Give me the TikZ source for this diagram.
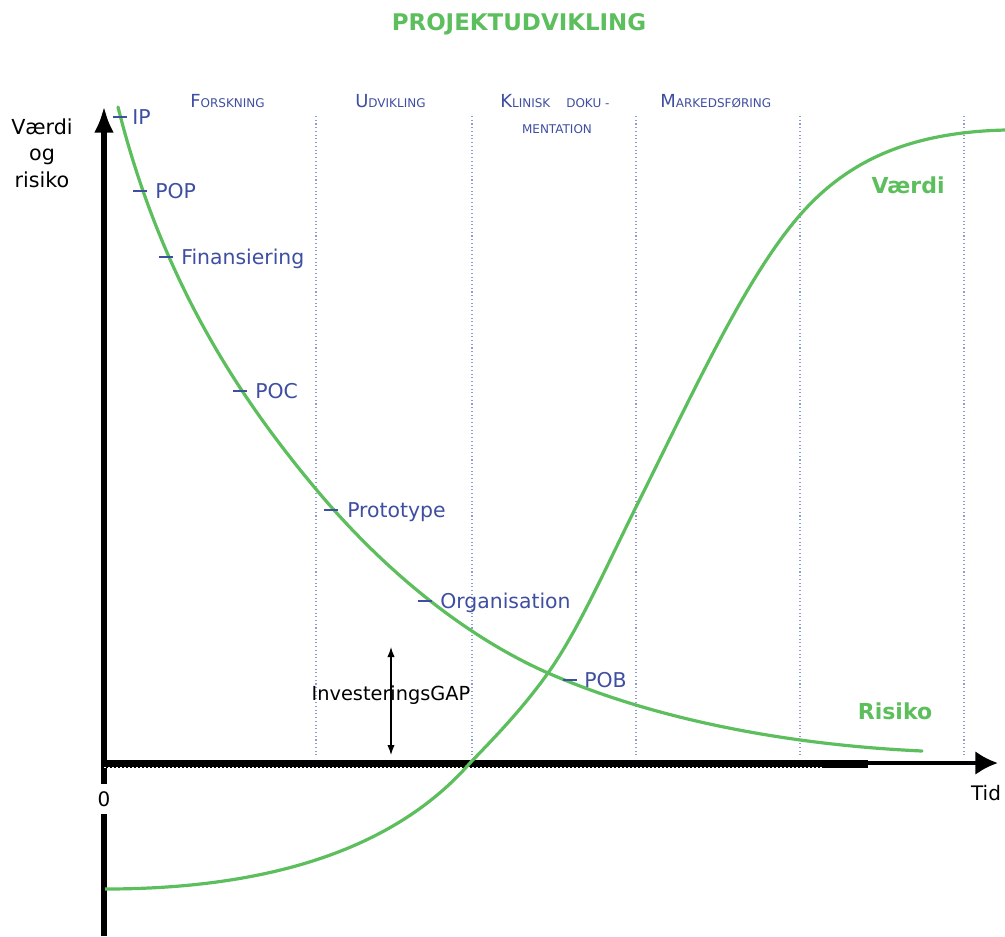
\documentclass[tikz,border=0pt]{standalone}
\usepackage{fontspec}
\setmainfont{DejaVu Sans}
\usetikzlibrary{arrows.meta}
\definecolor{cgreen}{RGB}{92,190,92}
\definecolor{cblue}{RGB}{62,78,160}
\definecolor{cgrid}{RGB}{140,155,215}
\newcommand\scl[2]{{\fontsize{13.5}{16}\selectfont #1}{\fontsize{9}{11}\selectfont #2}}
\tikzset{
  lbl/.style={anchor=base west,inner sep=0pt,text=cblue,font=\fontsize{15.3}{18}\selectfont},
  phase/.style={anchor=base west,inner sep=0pt,text=cblue},
  tickmark/.style={draw=cblue,line width=1.2pt},
  curve/.style={draw=cgreen,line width=2.4pt,line cap=round},
  grid/.style={draw=cgrid,line width=0.8pt,dotted},
  greenlbl/.style={anchor=base,inner sep=0pt,text=cgreen,font=\fontsize{16.5}{20}\selectfont\bfseries},
}
\begin{document}
\begin{tikzpicture}[x=0.75pt,y=-0.75pt]
\useasboundingbox (0,0) rectangle (1005,936);
% title
\node[greenlbl,font=\fontsize{17.2}{20}\selectfont\bfseries] (title) at (519,30.5) {PROJEKTUDVIKLING};
% phase labels
\node[phase] (ph1) at (190,107) {\scl{F}{ORSKNING}};
\node[phase] (ph2) at (355,107) {\scl{U}{DVIKLING}};
\node[phase] (ph3) at (500,107) {\scl{K}{LINISK\hspace{12pt}DOKU -}};
\node[phase,anchor=base] (ph3b) at (557,133) {\fontsize{9}{11}\selectfont MENTATION};
\node[phase] (ph4) at (660,107) {\scl{M}{ARKEDSFØRING}};
% grid lines
\foreach \gx/\nm in {316/g1,472/g2,636/g3,800/g4,964/g5}{
  \coordinate (\nm t) at (\gx,116);
  \coordinate (\nm b) at (\gx,757);
  \draw[grid] (\nm t) -- (\nm b);
}
% axes
\coordinate (O) at (104,763);
\coordinate (ytip) at (104,106);
\coordinate (ybot) at (104,936);
\coordinate (xtip) at (998,763);
\coordinate (xthick) at (868,763);
\coordinate (xdash) at (823,767.5);
\coordinate (xdash0) at (104,767.5);
\draw[line width=4.5pt,-{Latex[length=20pt,width=15pt]}] (ybot) -- (ytip);
\draw[line width=3pt,-{Latex[length=17pt,width=18pt]}] ([xshift=-2pt]O) -- (xtip);
\draw[line width=6pt] ([xshift=-2pt,yshift=-0.75pt]O) -- ([yshift=-0.75pt]xthick);
\draw[white,line width=1.2pt,dash pattern=on 1.5pt off 1.5pt] (xdash0) -- (xdash);
\node[fill=white,inner sep=0pt,minimum height=23pt,minimum width=12pt,font=\fontsize{15}{18}\selectfont] (zero) at (104,799) {0};
\node[anchor=base,inner sep=0pt,font=\fontsize{15}{18}\selectfont] (tid) at (986,800) {Tid};
\node[align=center,inner sep=0pt,font=\fontsize{15.5}{20}\selectfont] (ylab) at (42,153) {Værdi\\og\\risiko};
% curves
\coordinate (r0) at (118,107);
\coordinate (r1) at (315,488);
\coordinate (cross) at (548,673);
\coordinate (r3) at (922,751);
\draw[curve] (r0) .. controls (163,287) and (245,404) .. (r1)
  .. controls (390,578) and (473,640) .. (cross)
  .. controls (658,721) and (792,745) .. (r3);
\coordinate (v0) at (105,889);
\coordinate (v1) at (470,763);
\coordinate (v3) at (637,505);
\coordinate (v4) at (800,215);
\coordinate (v5) at (1006,130);
\draw[curve,line cap=butt] (v0) .. controls (230,889) and (380,866) .. (v1)
  .. controls (496,736) and (522,709.4) .. (cross)
  .. controls (578,631) and (607,565) .. (v3)
  .. controls (692,395) and (745,278) .. (v4)
  .. controls (850,157.5) and (915,132) .. (v5);
\node[greenlbl] (vaerdi) at (908,193) {Værdi};
\node[greenlbl] (risiko) at (895,719) {Risiko};
% ticks and labels
\foreach \tx/\ty/\lx/\nm/\txt in {120/117/132/IP/IP, 140/191/155/POP/POP, 166/257/181/Fin/Finansiering, 240/391/255/POC/POC, 331/510/347/Proto/Prototype, 425/601/440/Org/Organisation, 570/680/584/POB/POB}{
  \coordinate (t\nm) at (\tx,\ty);
  \draw[tickmark] ([xshift=-5.25pt]t\nm) -- ([xshift=5.25pt]t\nm);
  \node[lbl] (l\nm) at (\lx,\ty+7) {\txt};
}
% investeringsgap
\node[anchor=base,inner sep=0pt,font=\fontsize{14.5}{18}\selectfont] (gap) at (391,700) {InvesteringsGAP};
\coordinate (gapup) at (391,647);
\coordinate (gapdn) at (391,755);
\draw[line width=0.9pt,-{Latex[length=7.5pt,width=5.5pt]}] ([yshift=-11pt]gap.center) -- (gapup);
\draw[line width=0.9pt,-{Latex[length=7.5pt,width=5.5pt]}] ([yshift=12pt]gap.center) -- (gapdn);
\end{tikzpicture}
\end{document}
